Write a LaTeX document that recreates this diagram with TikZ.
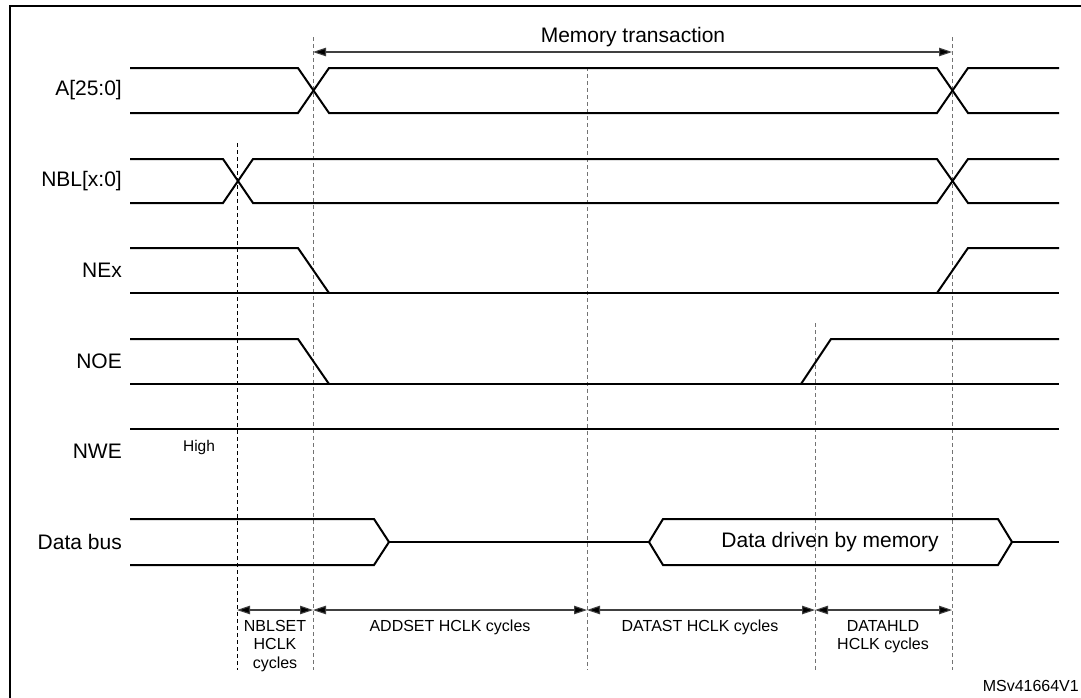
\documentclass[tikz,border=0pt]{standalone}
\usepackage{fontspec}
\setmainfont{Liberation Sans}
\usetikzlibrary{arrows.meta}
\begin{document}
\begin{tikzpicture}[x=1pt,y=-1pt,
  sig/.style={line width=2pt, line join=miter, line cap=butt},
  guide/.style={black!55, line width=1pt, dash pattern=on 4pt off 3pt},
  guidek/.style={black, line width=1pt, dash pattern=on 4pt off 3pt},
  dim/.style={line width=1.1pt, black!75, {Triangle[length=13pt,width=8.5pt,fill=black]}-{Triangle[length=13pt,width=8.5pt,fill=black]}},
  lab/.style={anchor=east, font=\fontsize{21}{24}\selectfont, inner sep=0pt},
  txt/.style={font=\fontsize{21}{24}\selectfont, inner sep=0pt},
  small/.style={font=\fontsize{16}{18.5}\selectfont, inner sep=0pt, align=center}]
\useasboundingbox (0,0) rectangle (1081,697);
\draw[line width=2pt] (9.5,5.5) rectangle (1100,730);

% guide coordinates
\coordinate (g1t) at (237,143); \coordinate (g1b) at (237,670); \coordinate (g1a) at (237,610);
\coordinate (g2t) at (313,37);  \coordinate (g2b) at (313,670); \coordinate (g2a) at (313,610); \coordinate (g2m) at (313,52);
\coordinate (g3t) at (587,67);  \coordinate (g3b) at (587,670); \coordinate (g3a) at (587,610);
\coordinate (g4t) at (815,323); \coordinate (g4b) at (815,670); \coordinate (g4a) at (815,610);
\coordinate (g5t) at (952,37);  \coordinate (g5b) at (952,670); \coordinate (g5a) at (952,610); \coordinate (g5m) at (952,52);

\draw[guidek] (g1t) -- (g1b);
\draw[guide] (g2t) -- (g2b);
\draw[guide] (g3t) -- (g3b);
\draw[guide] (g4t) -- (g4b);
\draw[guide] (g5t) -- (g5b);

% signal labels
\node[lab] (lA) at (122,90) {A[25:0]};
\node[lab] (lNBL) at (122,181) {NBL[x:0]};
\node[lab] (lNEx) at (122,270) {NEx};
\node[lab] (lNOE) at (122,361) {NOE};
\node[lab] (lNWE) at (122,451) {NWE};
\node[lab] (lData) at (122,542) {Data bus};
\node[font=\fontsize{15.5}{18}\selectfont, inner sep=0pt] (high) at (199,447) {High};

% A[25:0]
\draw[sig] (130,68) -- (298,68) -- (329,113) -- (937,113) -- (968,68) -- (1059,68);
\draw[sig] (130,113) -- (298,113) -- (329,68) -- (937,68) -- (968,113) -- (1059,113);
% NBL
\draw[sig] (130,159) -- (223,159) -- (253,203) -- (937,203) -- (968,159) -- (1059,159);
\draw[sig] (130,203) -- (223,203) -- (253,159) -- (937,159) -- (968,203) -- (1059,203);
% NEx
\draw[sig] (130,293) -- (1059,293);
\draw[sig] (130,248) -- (298,248) -- (329,293);
\draw[sig] (937,293) -- (968,248) -- (1059,248);
% NOE
\draw[sig] (130,384) -- (1059,384);
\draw[sig] (130,339) -- (298,339) -- (329,384);
\draw[sig] (801,384) -- (831,339) -- (1059,339);
% NWE
\draw[sig] (130,429) -- (1059,429);
% Data bus
\draw[sig] (130,519) -- (374,519) -- (389,542) -- (374,565) -- (130,565);
\draw[sig] (389,542) -- (649,542);
\draw[sig] (649,542) -- (663,519) -- (998,519) -- (1012,542) -- (998,565) -- (663,565) -- cycle;
\draw[sig] (1012,542) -- (1059,542);
\node[txt] (ddm) at (830,542) {Data driven by memory};

% memory transaction
\draw[dim] (g2m) -- (g5m);
\node[txt] (mt) at (633,37) {Memory transaction};

% bottom dimension arrows
\draw[dim] (g1a) -- (g2a);
\draw[dim] (g2a) -- (g3a);
\draw[dim] (g3a) -- (g4a);
\draw[dim] (g4a) -- (g5a);
\node[small] (nblset) at (275,646) {NBLSET\\HCLK\\cycles};
\node[small] (addset) at (450,627) {ADDSET HCLK cycles};
\node[small] (datast) at (700,627) {DATAST HCLK cycles};
\node[small] (datahld) at (883,636.5) {DATAHLD\\HCLK cycles};
\node[small, anchor=east] (ref) at (1079,686) {MSv41664V1};
\end{tikzpicture}
\end{document}
